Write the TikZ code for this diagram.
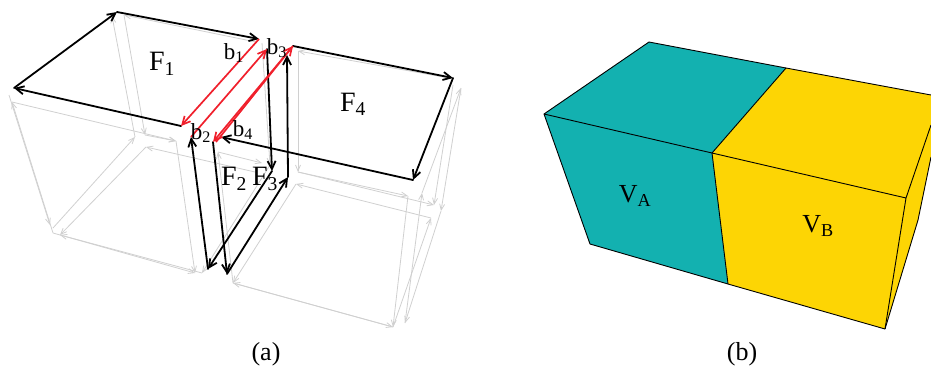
\documentclass[tikz,border=0pt]{standalone}
\usepackage{fontspec}
\setmainfont{Liberation Serif}
\usetikzlibrary{arrows.meta}
\definecolor{tealface}{HTML}{13B1B0}
\definecolor{yellowface}{HTML}{FDD504}
\definecolor{ghost}{HTML}{D0D0D0}
\definecolor{twinred}{HTML}{F0202C}
\newcommand{\lab}[2]{#1\textsubscript{#2}}
\tikzset{
  edge/.style={draw=black, line width=1.8pt, line cap=round, -{Straight Barb[length=8pt,width=8pt]}},
  twin/.style={draw=twinred, line width=1.7pt, -{Straight Barb[length=8pt,width=8pt]}},
  ghostedge/.style={draw=ghost, line width=0.8pt, -{Straight Barb[length=6pt,width=5pt]}},
  face/.style={draw=black, line width=0.9pt, line join=round},
  mark label/.style={inner sep=0pt, font=\fontsize{28}{28}\selectfont},
  small label/.style={inner sep=0pt, font=\fontsize{23}{23}\selectfont},
  solid label/.style={inner sep=0pt, font=\fontsize{26}{26}\selectfont},
  caption label/.style={inner sep=0pt, font=\fontsize{26}{26}\selectfont}
}
\begin{document}
\begin{tikzpicture}[x=1pt, y=-1pt]
\useasboundingbox (0,0) rectangle (931,370);

% left cube, faint
\coordinate (la) at (9,95);
\coordinate (lb) at (50,225);
\coordinate (lc) at (53,233);
\coordinate (ld) at (12,102);
\coordinate (le) at (176,141);
\coordinate (lf) at (195,273);
\coordinate (lg) at (135,137);
\coordinate (lh) at (112,16);
\coordinate (li) at (256,42);
\coordinate (lj) at (124,15);
\coordinate (lk) at (145,135);
\coordinate (ll) at (146,147);
\coordinate (lm) at (60,235);
\coordinate (ln) at (202,273);
\coordinate (lo) at (270,165);
\coordinate (lp) at (255,172);
\coordinate (lq) at (53,228);
\coordinate (lr) at (262,43);
\draw[ghostedge] (la) -- (lb);
\draw[ghostedge] (lc) -- (ld);
\draw[ghostedge] (ld) -- (le);
\draw[ghostedge] (le) -- (lf);
\draw[ghostedge] (lg) -- (lh);
\draw[ghostedge] (li) -- (lj);
\draw[ghostedge] (lj) -- (lk);
\draw[ghostedge] (lk) -- (le);
\draw[ghostedge] (lq) -- (lg);
\draw[ghostedge] (ll) -- (lm);
\draw[ghostedge] (lp) -- (ll);
\draw[ghostedge] (lc) -- (lf);
\draw[ghostedge] (ln) -- (lm);
\draw[ghostedge] (lo) -- (ln);
\draw[ghostedge] (lr) -- (lo);

% right cube, faint
\coordinate (ra) at (449,78);
\coordinate (rb) at (298,51);
\coordinate (rc) at (298,172);
\coordinate (rd) at (408,196);
\coordinate (re) at (434,205);
\coordinate (rf) at (393,327);
\coordinate (rg) at (431,218);
\coordinate (rh) at (296,184);
\coordinate (ri) at (233,283);
\coordinate (rj) at (218,152);
\coordinate (rk) at (262,163);
\coordinate (rl) at (405,323);
\coordinate (rm) at (422,193);
\coordinate (rn) at (461,88);
\coordinate (ro) at (453,85);
\coordinate (rp) at (441,211);
\draw[ghostedge] (ra) -- (rb);
\draw[ghostedge] (rb) -- (rc);
\draw[ghostedge] (rc) -- (rd);
\draw[ghostedge] (rc) -- (re);
\draw[ghostedge] (rd) -- (rf);
\draw[ghostedge] (rf) -- (rg);
\draw[ghostedge] (rg) -- (rh);
\draw[ghostedge] (rh) -- (ri);
\draw[ghostedge] (ri) -- (rf);
\draw[ghostedge] (rf) -- (ri);
\draw[ghostedge] (ri) -- (rj);
\draw[ghostedge] (rj) -- (rk);
\draw[ghostedge] (rl) -- (rm);
\draw[ghostedge] (rm) -- (rn);
\draw[ghostedge] (ro) -- (re);
\draw[ghostedge] (rn) -- (rp);
\draw[ghostedge] (rp) -- (rl);

% the four faces
\coordinate (fa) at (117,12);
\coordinate (fb) at (259,39);
\coordinate (fc) at (181,126);
\coordinate (fd) at (14,88);
\coordinate (sa) at (191,137);
\coordinate (sb) at (267,49);
\coordinate (sc) at (272,171);
\coordinate (sd) at (208,269);
\coordinate (ta) at (213,142);
\coordinate (tb) at (227,274);
\coordinate (tc) at (288,177);
\coordinate (td) at (287,55);
\coordinate (ua) at (293,46);
\coordinate (ub) at (453,78);
\coordinate (uc) at (413,180);
\coordinate (ud) at (221,137);
\coordinate (ve) at (216,142);
\draw[edge] (fd) -- (fa);
\draw[edge] (fa) -- (fb);
\draw[edge] (fc) -- (fd);
\draw[edge] (sb) -- (sc);
\draw[edge] (sc) -- (sd);
\draw[edge] (sd) -- (sa);
\draw[edge] (ta) -- (tb);
\draw[edge] (tb) -- (tc);
\draw[edge] (tc) -- (td);
\draw[edge] (ua) -- (ub);
\draw[edge] (ub) -- (uc);
\draw[edge] (uc) -- (ud);
\draw[twin] (fb) -- (fc);
\draw[twin] (sa) -- (sb);
\draw[twin] (ua) -- (ta);
\draw[twin] (ve) -- (ua);

\node[mark label] (fone) at (162,64) {\lab{F}{1}};
\node[mark label] (ftwo) at (234,179) {\lab{F}{2}};
\node[mark label] (fthree) at (265,179) {\lab{F}{3}};
\node[mark label] (ffour) at (353,104) {\lab{F}{4}};
\node[small label] (bone) at (234,53) {\lab{b}{1}};
\node[small label] (btwo) at (201,133) {\lab{b}{2}};
\node[small label] (bthree) at (277,48) {\lab{b}{3}};
\node[small label] (bfour) at (243,130) {\lab{b}{4}};
\node[caption label] (capa) at (266,354) {(a)};

% solid on the right
\coordinate (pa) at (649,42);
\coordinate (pb) at (786,68);
\coordinate (pc) at (931,95);
\coordinate (pd) at (544,114);
\coordinate (pe) at (712,153);
\coordinate (pf) at (906,198);
\coordinate (pg) at (590,244);
\coordinate (ph) at (728,284);
\coordinate (pi) at (885,329);
\coordinate (pj) at (931,125);
\coordinate (pk) at (918,220);
\coordinate (pl) at (931,157);
\fill[yellowface] (pb) -- (pc) -- (pl) -- (pk) -- (pi) -- (ph) -- (pe) -- cycle;
\fill[tealface] (pa) -- (pb) -- (pe) -- (ph) -- (pg) -- (pd) -- cycle;
\draw[face] (pa) -- (pb) -- (pc);
\draw[face] (pa) -- (pd) -- (pg) -- (ph) -- (pi);
\draw[face] (pd) -- (pe) -- (pf) -- (pi);
\draw[face] (pb) -- (pe) -- (ph);
\draw[face] (pf) -- (pj);
\draw[face] (pl) -- (pk) -- (pi);

\node[solid label] (va) at (635,196) {\lab{V}{A}};
\node[solid label] (vb) at (818,226) {\lab{V}{B}};
\node[caption label] (capb) at (742,354) {(b)};
\end{tikzpicture}
\end{document}
